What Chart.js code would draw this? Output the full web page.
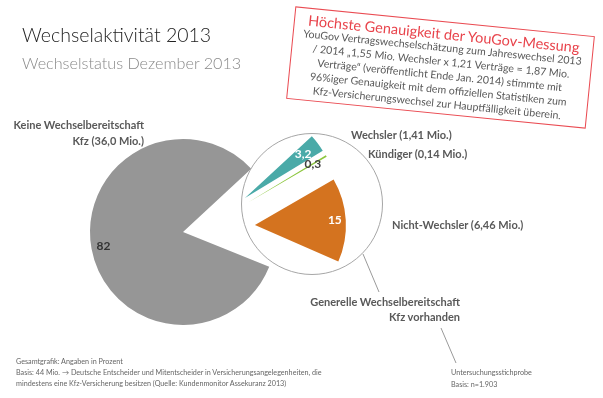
<!DOCTYPE html>
<html><head><meta charset="utf-8">
<script src="https://cdn.jsdelivr.net/npm/chart.js@4.4.0/dist/chart.umd.min.js"></script>
<style>
html,body{margin:0;padding:0;background:#fff;}
#wrap{position:relative;width:603px;height:398px;overflow:hidden;font-family:Lato,"Open Sans",sans-serif;}
canvas{position:absolute;left:0;top:0;}
.t{position:absolute;white-space:nowrap;}
.lbl{font-weight:bold;font-size:11px;line-height:14px;color:#595959;letter-spacing:0;}
#circle{position:absolute;left:241px;top:133px;width:142px;height:142px;box-sizing:border-box;border:1px solid #a6a6a6;border-radius:50%;background:#fff;}
#box{position:absolute;left:290px;top:21px;width:301px;height:93px;box-sizing:border-box;border:1px solid #ea4b52;transform:rotate(5.7deg);transform-origin:50% 50%;text-align:center;white-space:nowrap;}
#box .h{position:absolute;left:0;right:0;top:3px;font-size:14.5px;line-height:17px;color:#e8434b;}
#box .b{position:absolute;left:0;right:0;top:19px;font-size:10.6px;line-height:13.9px;color:#595959;}
.foot{font-size:7.2px;line-height:11px;color:#666;}
svg{position:absolute;left:0;top:0;}
</style></head>
<body><div id="wrap">
<canvas id="outer" width="603" height="398"></canvas>
<div id="circle"></div>
<canvas id="inner" width="603" height="398"></canvas>
<svg width="603" height="398"><line x1="363" y1="254" x2="379" y2="292" stroke="#9a9a9a" stroke-width="1"/><line x1="441" y1="328" x2="456" y2="363" stroke="#9a9a9a" stroke-width="1"/></svg>
<div class="t" style="left:22px;top:24px;font-size:19.5px;line-height:22px;font-weight:300;color:#222;">Wechselaktivität 2013</div>
<div class="t" style="left:22px;top:53px;font-size:16.2px;line-height:19px;font-weight:300;color:#8a8a8a;">Wechselstatus Dezember 2013</div>
<div id="box"><div class="h">Höchste Genauigkeit der YouGov-Messung</div><div class="b">YouGov Vertragswechselschätzung zum Jahreswechsel 2013<br>/ 2014 „1,55 Mio. Wechsler x 1,21 Verträge = 1,87 Mio.<br>Verträge“ (veröffentlicht Ende Jan. 2014) stimmte mit<br>96%iger Genauigkeit mit dem offiziellen Statistiken zum<br>Kfz-Versicherungswechsel zur Hauptfälligkeit überein.</div></div>
<div class="t lbl" style="right:459px;top:117px;text-align:right;line-height:16px;">Keine Wechselbereitschaft<br>Kfz (36,0 Mio.)</div>
<div class="t lbl" style="left:351px;top:128px;">Wechsler (1,41 Mio.)</div>
<div class="t lbl" style="left:368px;top:147px;">Kündiger (0,14 Mio.)</div>
<div class="t lbl" style="left:392px;top:218px;">Nicht-Wechsler (6,46 Mio.)</div>
<div class="t lbl" style="right:143px;top:294px;text-align:right;line-height:15px;">Generelle Wechselbereitschaft<br>Kfz vorhanden</div>
<div class="t foot" style="left:16px;top:356px;">Gesamtgrafik: Angaben in Prozent<br>Basis: 44 Mio. → Deutsche Entscheider und Mitentscheider in Versicherungsangelegenheiten, die<br>mindestens eine Kfz-Versicherung besitzen (Quelle: Kundenmonitor Assekuranz 2013)</div>
<div class="t foot" style="left:451px;top:367px;line-height:12px;">Untersuchungsstichprobe<br>Basis: n=1.903</div>
</div>
<script>
// ---- data ----
const outerCategories = ['Keine Wechselbereitschaft Kfz', 'Generelle Wechselbereitschaft Kfz vorhanden'];
const outerValues = [82, 18];
const outerValueLabels = ['82', ''];
const innerCategories = ['Wechsler', 'Kündiger', 'Nicht-Wechsler', 'Keine Wechselbereitschaft'];
const innerValues = [3.2, 0.3, 15, 82];
const innerValueLabels = ['3,2', '0,3', '15', ''];

const explode = {
  id: 'explode',
  afterDatasetUpdate(chart, args, opts) {
    const d = opts.distance || 0;
    if (!d) return;
    args.meta.data.forEach(arc => {
      const mid = (arc.startAngle + arc.endAngle) / 2;
      arc.x += Math.cos(mid) * d;
      arc.y += Math.sin(mid) * d;
    });
  }
};
const valueLabels = {
  id: 'valueLabels',
  afterDatasetsDraw(chart, args, opts) {
    const ctx = chart.ctx;
    const meta = chart.getDatasetMeta(0);
    meta.data.forEach((arc, i) => {
      const txt = opts.labels[i];
      if (!txt) return;
      const mid = (arc.startAngle + arc.endAngle) / 2;
      const r = arc.outerRadius * opts.pos[i];
      ctx.save();
      ctx.font = opts.font;
      ctx.fillStyle = opts.colors[i];
      ctx.textAlign = 'center';
      ctx.textBaseline = 'middle';
      ctx.fillText(txt, arc.x + Math.cos(mid) * r, arc.y + Math.sin(mid) * r);
      ctx.restore();
    });
  }
};

const common = {
  responsive: false,
  animation: false,
  events: [],
  plugins: { legend: { display: false }, tooltip: { enabled: false } }
};

new Chart(document.getElementById('outer'), {
  type: 'pie',
  data: { labels: outerCategories, datasets: [{ data: outerValues, backgroundColor: ['#969696', 'rgba(0,0,0,0)'], borderWidth: 0 }] },
  options: Object.assign({}, common, {
    rotation: 112,
    radius: 93,
    layout: { padding: { left: 0, right: 237, top: 66, bottom: 0 } },
    plugins: Object.assign({}, common.plugins, {
      valueLabels: { labels: outerValueLabels, pos: [0.87, 0], colors: ['#333', '#333'], font: 'bold 12px Lato, sans-serif' }
    })
  }),
  plugins: [valueLabels]
});

new Chart(document.getElementById('inner'), {
  type: 'pie',
  data: { labels: innerCategories, datasets: [{ data: innerValues, backgroundColor: ['#4aaaa8', '#8cc63e', '#d4731f', 'rgba(0,0,0,0)'], borderWidth: 0 }] },
  options: Object.assign({}, common, {
    rotation: 47.3,
    radius: 91,
    layout: { padding: { left: 0, right: 193, top: 58, bottom: 0 } },
    plugins: Object.assign({}, common.plugins, {
      explode: { distance: 50 },
      valueLabels: { labels: innerValueLabels, pos: [0.8, 0.83, 0.88, 0], colors: ['#fff', '#404040', '#fff', '#fff'], font: 'bold 12px Lato, sans-serif' }
    })
  }),
  plugins: [explode, valueLabels]
});
</script>
</body></html>
